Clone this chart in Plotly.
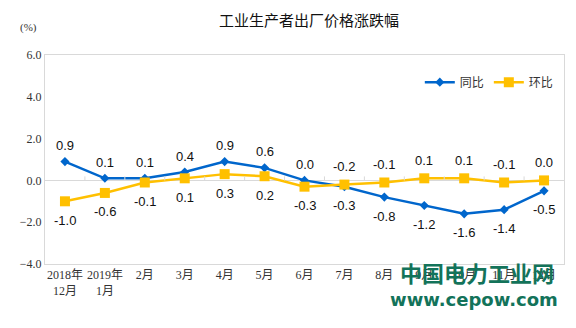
import plotly.graph_objects as go

categories = ["2018年<br>12月", "2019年<br>1月", "2月", "3月", "4月", "5月", "6月",
              "7月", "8月", "9月", "10月", "11月", "12月"]
yoy = [0.9, 0.1, 0.1, 0.4, 0.9, 0.6, 0.0, -0.3, -0.8, -1.2, -1.6, -1.4, -0.5]
mom = [-1.0, -0.6, -0.1, 0.1, 0.3, 0.2, -0.3, -0.2, -0.1, 0.1, 0.1, -0.1, 0.0]
y_ticks = [-4, -2, 0, 2, 4, 6]

BLUE = "#0066CC"
YELLOW = "#FFC000"
GRID = "#D9D9D9"
LABEL_FONT = dict(family="Liberation Sans, Arial, sans-serif", size=13, color="#111111")
TICK_FONT = dict(family="Liberation Serif, Noto Sans CJK SC, serif", size=12, color="#333333")

x = list(range(len(categories)))

fig = go.Figure()
fig.add_trace(go.Scatter(
    x=x, y=yoy, name="同比", mode="lines+markers",
    line=dict(color=BLUE, width=2.5),
    marker=dict(symbol="diamond", size=7, color=BLUE),
))
fig.add_trace(go.Scatter(
    x=x, y=mom, name="环比", mode="lines+markers",
    line=dict(color=YELLOW, width=2.5),
    marker=dict(symbol="square", size=10, color=YELLOW),
))

annotations = []
for i in x:
    above_blue = yoy[i] >= mom[i]
    annotations.append(dict(x=i, y=yoy[i], xref="x", yref="y", text=f"{yoy[i]:.1f}",
                            showarrow=False, font=LABEL_FONT,
                            yshift=16 if above_blue else -19))
    annotations.append(dict(x=i, y=mom[i], xref="x", yref="y", text=f"{mom[i]:.1f}",
                            showarrow=False, font=LABEL_FONT,
                            yshift=-19 if above_blue else 18))

annotations += [
    dict(text="工业生产者出厂价格涨跌幅", xref="paper", yref="paper", x=0.508, y=1.17,
         xanchor="center", yanchor="middle", showarrow=False,
         font=dict(family="Noto Sans CJK SC, sans-serif", size=15, color="#111111")),
    dict(text="(%)", xref="paper", yref="paper", x=-0.012, y=1.13,
         xanchor="right", yanchor="middle", showarrow=False,
         font=dict(family="Liberation Serif, serif", size=11, color="#333333")),
    dict(text="<b>中国电力工业网</b>", xref="paper", yref="paper", x=0.984, y=-0.04,
         xanchor="right", yanchor="middle", showarrow=False,
         font=dict(family="Noto Sans CJK SC, sans-serif", size=22, color="#13735A")),
    dict(text="<b>www.cepow.com</b>", xref="paper", yref="paper", x=0.993, y=-0.17,
         xanchor="right", yanchor="middle", showarrow=False,
         font=dict(family="DejaVu Sans, sans-serif", size=18, color="#13735A")),
]

shapes = []
for i in range(len(categories) - 1):
    shapes.append(dict(type="line", xref="x", yref="y", x0=i + 0.5, x1=i + 0.5,
                       ysizemode="pixel", yanchor=0, y0=0, y1=4,
                       line=dict(color=GRID, width=1)))

fig.update_layout(
    width=576, height=328,
    margin=dict(l=45, r=12, t=55, b=64),
    paper_bgcolor="white", plot_bgcolor="white",
    showlegend=True,
    legend=dict(orientation="h", x=0.99, xanchor="right", y=0.87, yanchor="middle",
                font=dict(family="Noto Sans CJK SC, sans-serif", size=12, color="#333333"),
                itemwidth=30, bgcolor="rgba(0,0,0,0)", tracegroupgap=0),
    annotations=annotations,
    shapes=shapes,
)
fig.update_xaxes(
    range=[-0.5, len(categories) - 0.5],
    tickmode="array", tickvals=x, ticktext=categories,
    showgrid=False, zeroline=False,
    showline=True, linecolor=GRID, linewidth=1, mirror=True,
    ticks="", tickfont=TICK_FONT,
)
fig.update_yaxes(
    range=[-4, 6], tickvals=y_ticks, tickformat=".1f",
    showgrid=False, zeroline=True, zerolinecolor=GRID, zerolinewidth=1,
    showline=True, linecolor=GRID, linewidth=1, mirror=True,
    ticks="", tickfont=TICK_FONT,
)

fig.write_html("out.html")
